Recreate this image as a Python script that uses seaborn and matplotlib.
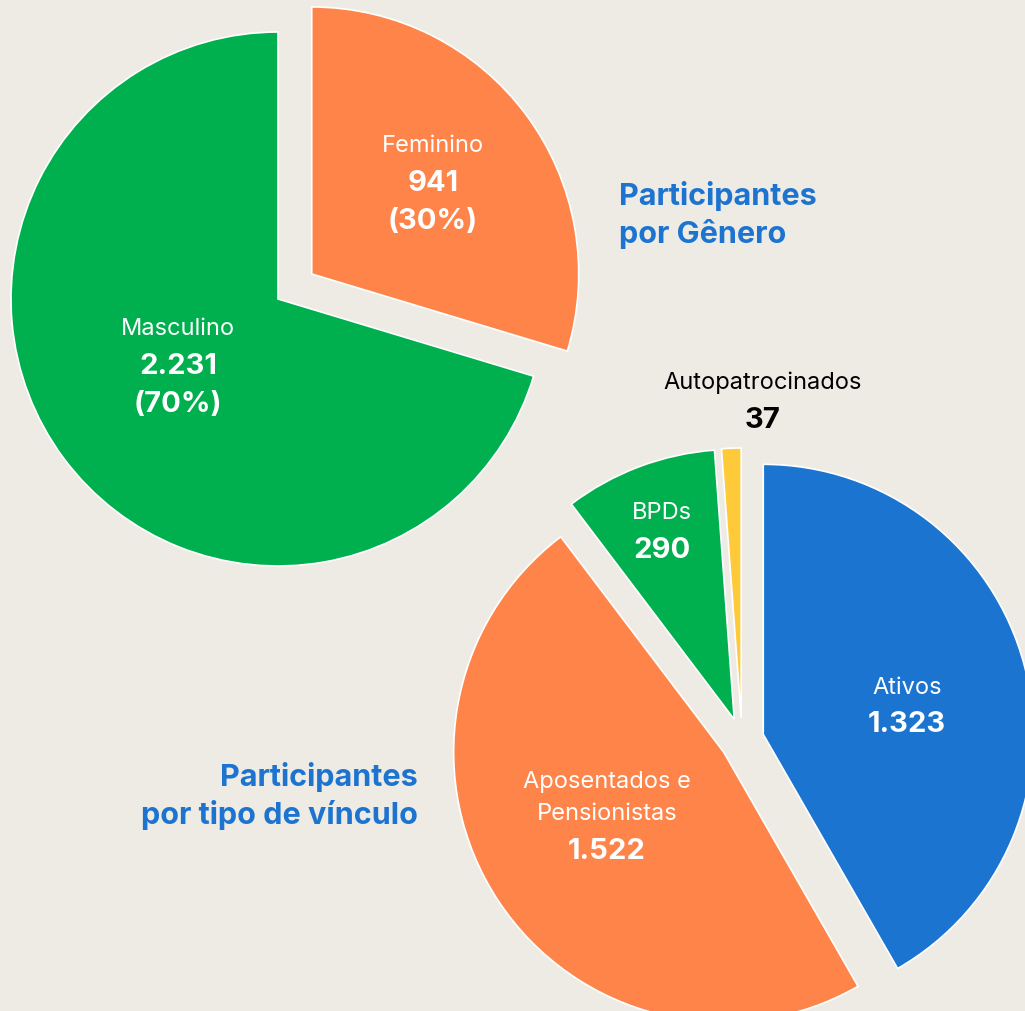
import matplotlib
matplotlib.use("Agg")
import matplotlib.pyplot as plt
import seaborn as sns

# ---- data ----
genero_labels = ["Feminino", "Masculino"]
genero_values = [941, 2231]

vinculo_labels = ["Ativos", "Aposentados e\nPensionistas", "BPDs", "Autopatrocinados"]
vinculo_values = [1323, 1522, 290, 37]

titulo_genero = "Participantes\npor Gênero"
titulo_vinculo = "Participantes\npor tipo de vínculo"

# ---- style ----
sns.set_theme(style="white")
plt.rcParams['font.family'] = ['Inter', 'DejaVu Sans']

BG = "#EDEBE4"
GREEN = "#00B04F"
ORANGE = "#FF844A"
BLUE = "#1B75D0"
YELLOW = "#FFCA3A"
TITLE = "#1D74D0"

W, H = 1025, 1012
fig = plt.figure(figsize=(W / 100, H / 100), dpi=100, facecolor=BG)
ax = fig.add_axes([0, 0, 1, 1])
ax.set_facecolor(BG)


def Y(ypix):
    return H - ypix


def fmt(v):
    return f"{v:,}".replace(",", ".")


wp = dict(edgecolor="white", linewidth=1.2)

# Pie 1: gender
ax.pie(genero_values, startangle=90, counterclock=False,
       center=(278, Y(300)), radius=267, explode=[42, 0],
       colors=[ORANGE, GREEN], wedgeprops=wp)

# Pie 2: vinculo
ax.pie(vinculo_values, startangle=90, counterclock=False,
       center=(742, Y(741)), radius=270, explode=[22, 22, 22, 22],
       colors=[BLUE, ORANGE, GREEN, YELLOW], wedgeprops=wp)

ax.set_xlim(0, W)
ax.set_ylim(0, H)
ax.set_aspect("equal")
ax.axis("off")

tot_g = sum(genero_values)
LBL = 17
NUM = 21

# gender labels
g_pos = [(433, 146), (178, 329)]
for lab, val, (x, y) in zip(genero_labels, genero_values, g_pos):
    pct = round(100 * val / tot_g)
    ax.text(x, Y(y), lab, color="white", fontsize=LBL, ha="center", va="center")
    ax.text(x, Y(y + 37), fmt(val), color="white", fontsize=NUM,
            fontweight="bold", ha="center", va="center")
    ax.text(x, Y(y + 75), f"({pct}%)", color="white", fontsize=NUM,
            fontweight="bold", ha="center", va="center")

# vinculo labels
v_pos = [(907, 688, 724, "white"), (607, 798, 852, "white"),
         (662, 513, 550, "white"), (763, 383, 420, "black")]
for lab, val, (x, yl, yn, c) in zip(vinculo_labels, vinculo_values, v_pos):
    ax.text(x, Y(yl), lab, color=c, fontsize=LBL, ha="center", va="center",
            linespacing=1.6)
    ax.text(x, Y(yn), fmt(val), color=c, fontsize=NUM, fontweight="bold",
            ha="center", va="center")

# titles
ax.text(619, Y(215), titulo_genero, color=TITLE, fontsize=22, fontweight="bold",
        ha="left", va="center", linespacing=1.33)
ax.text(418, Y(796), titulo_vinculo, color=TITLE, fontsize=22, fontweight="bold",
        ha="right", va="center", linespacing=1.33, multialignment="right")

fig.savefig("out.png", dpi=100, facecolor=BG)
